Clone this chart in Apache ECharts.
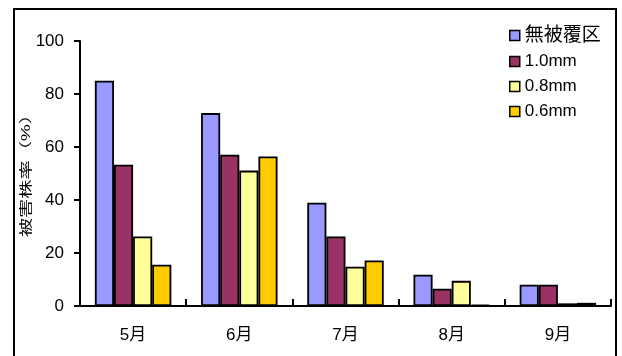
<!DOCTYPE html>
<html>
<head>
<meta charset="utf-8">
<script src="https://cdn.jsdelivr.net/npm/echarts@6/dist/echarts.min.js"></script>
<style>
  html, body { margin: 0; padding: 0; background: #fff; }
  #chart { width: 622px; height: 356px; }
</style>
</head>
<body>
<div id="chart"></div>
<script>
// Monthly damaged-plant rate by mesh size
const months = ['5月', '6月', '7月', '8月', '9月'];
const seriesNames = ['無被覆区', '1.0mm', '0.8mm', '0.6mm'];
const noCover = [85, 72.8, 39, 11.8, 8];
const mesh10 = [53.3, 57.1, 26.2, 6.5, 8];
const mesh08 = [26.2, 51.1, 14.8, 9.5, 1.0];
const mesh06 = [15.6, 56.4, 17.2, 0.5, 1.2];
const yTicks = { min: 0, max: 100, interval: 20 };
const yTitle = '被害株率（%）';

const colors = ['#9999FF', '#993366', '#FFFF99', '#FFCC00'];
const seriesData = [noCover, mesh10, mesh08, mesh06];
const FONT = '"Liberation Sans", Arial, "Noto Sans CJK JP", sans-serif';

const chart = echarts.init(document.getElementById('chart'), null, { renderer: 'canvas' });

chart.setOption({
  animation: false,
  backgroundColor: '#ffffff',
  textStyle: { fontFamily: FONT, color: '#000' },
  graphic: [
    {
      // outer chart frame
      type: 'rect',
      shape: { x: 14, y: 9, width: 602, height: 400 },
      style: { fill: 'none', stroke: '#000', lineWidth: 2 },
      z: 100
    },
    {
      // vertical axis title, slightly condensed glyphs
      type: 'text',
      x: 26,
      y: 171,
      rotation: Math.PI / 2,
      scaleX: 1.2,
      scaleY: 0.8,
      style: {
        text: yTitle,
        fill: '#000',
        font: '16px ' + FONT,
        align: 'center',
        verticalAlign: 'middle'
      }
    }
  ],
  legend: {
    orient: 'vertical',
    left: 504,
    top: 21,
    itemWidth: 10,
    itemHeight: 10,
    itemGap: 8,
    icon: 'rect',
    data: seriesNames,
    itemStyle: { borderColor: '#000', borderWidth: 1.5 },
    formatter: function (name) {
      return /[\u3000-\u9fff]/.test(name) ? '{cjk|' + name + '}' : name;
    },
    textStyle: {
      fontFamily: FONT, fontSize: 17, color: '#000', lineHeight: 17,
      rich: { cjk: { fontFamily: FONT, fontSize: 19, lineHeight: 17, color: '#000' } }
    }
  },
  grid: { left: 80, right: 11, top: 41, bottom: 50, containLabel: false },
  xAxis: {
    type: 'category',
    data: months,
    axisLine: { lineStyle: { color: '#000', width: 2 } },
    axisTick: { show: true, inside: true, length: 7, interval: 0, lineStyle: { color: '#000', width: 2 } },
    axisLabel: { fontFamily: FONT, fontSize: 17, color: '#000', margin: 21 }
  },
  yAxis: {
    type: 'value',
    min: yTicks.min,
    max: yTicks.max,
    interval: yTicks.interval,
    splitLine: { show: false },
    axisLine: { show: true, lineStyle: { color: '#000', width: 2 } },
    axisTick: { show: true, length: 6, lineStyle: { color: '#000', width: 2 } },
    axisLabel: { fontFamily: FONT, fontSize: 17, color: '#000', margin: 16 }
  },
  series: seriesNames.map((name, i) => ({
    name: name,
    type: 'bar',
    data: seriesData[i],
    barGap: '0%',
    barCategoryGap: '28%',
    itemStyle: { color: colors[i], borderColor: '#000', borderWidth: 1.8 }
  }))
});
</script>
</body>
</html>
